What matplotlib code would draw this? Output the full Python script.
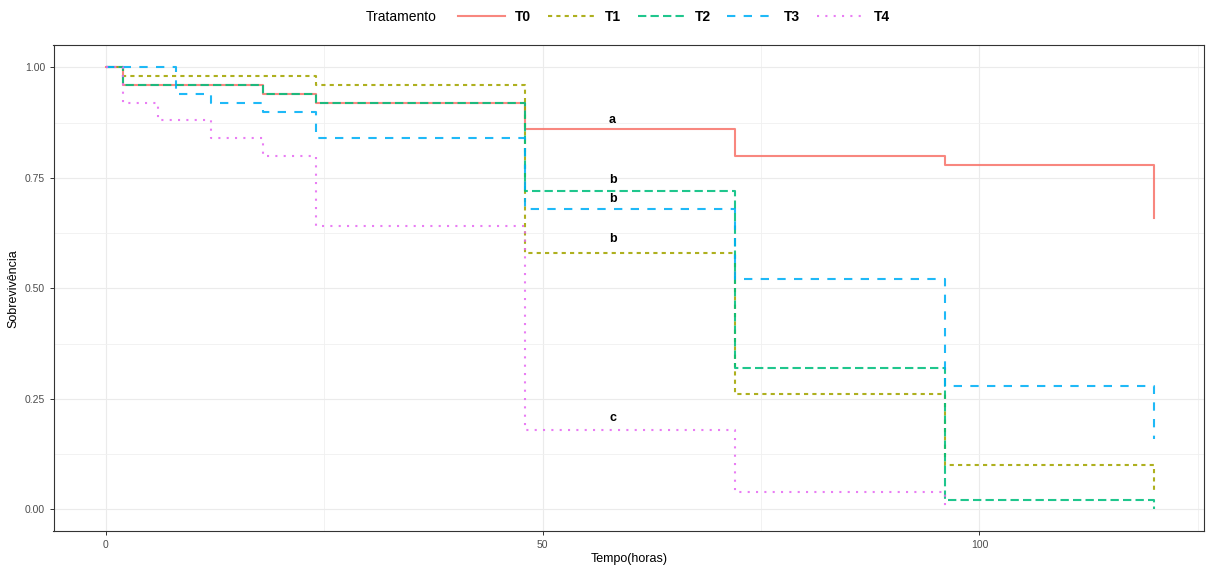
import numpy as np
import matplotlib
matplotlib.use("Agg")
import matplotlib.pyplot as plt
from matplotlib.lines import Line2D
from matplotlib.ticker import MultipleLocator

plt.rcParams['font.family'] = ['Liberation Sans', 'DejaVu Sans']

# survival curves (Kaplan-Meier steps)
tratamentos = ['T0', 'T1', 'T2', 'T3', 'T4']
tempo_T0 = [0, 2, 18, 24, 48, 72, 96, 120]
surv_T0 = [1.00, 0.96, 0.94, 0.92, 0.86, 0.80, 0.78, 0.66]
tempo_T1 = [0, 2, 24, 48, 72, 96, 120]
surv_T1 = [1.00, 0.98, 0.96, 0.58, 0.26, 0.10, 0.04]
tempo_T2 = [0, 2, 18, 24, 48, 72, 96, 120]
surv_T2 = [1.00, 0.96, 0.94, 0.92, 0.72, 0.32, 0.02, 0.00]
tempo_T3 = [0, 8, 12, 18, 24, 48, 72, 96, 120]
surv_T3 = [1.00, 0.94, 0.92, 0.90, 0.84, 0.68, 0.52, 0.28, 0.16]
tempo_T4 = [0, 2, 6, 12, 18, 24, 48, 72, 96]
surv_T4 = [1.00, 0.92, 0.88, 0.84, 0.80, 0.64, 0.18, 0.04, 0.00]

# letters of the statistical groups
letras = ['a', 'b', 'b', 'b', 'c']
letras_x = [58, 58, 58, 58, 58]
letras_y = [0.881, 0.744, 0.703, 0.611, 0.207]

tempos = [tempo_T0, tempo_T1, tempo_T2, tempo_T3, tempo_T4]
survs = [surv_T0, surv_T1, surv_T2, surv_T3, surv_T4]
cores = ['#F8766D', '#A3A500', '#00BF7D', '#00B0F6', '#E76BF3']
dashes = [None, (2, 2), (4, 2), (4, 4), (1, 3)]
lw = 1.5
alpha = 0.88

fig = plt.figure(figsize=(12.06, 5.65), dpi=100)
ax = fig.add_axes([53.5/1206, 1-531.4/565, (1204-53.5)/1206, (531.4-45.2)/565])

handles = []
for t, s, c, d, nome in zip(tempos, survs, cores, dashes, tratamentos):
    ln, = ax.step(t, s, where='post', color=c, lw=lw, alpha=alpha, label=nome)
    if d is not None:
        ln.set_dashes(d)
    ln.set_dash_capstyle('butt')
    h = Line2D([0], [0], color=c, lw=lw, alpha=alpha)
    if d is not None:
        h.set_dashes(d)
    handles.append(h)

for lx, ly, lt in zip(letras_x, letras_y, letras):
    ax.text(lx, ly, lt, ha='center', va='center', fontsize=9, fontweight='bold')

ax.set_xlim(-6, 125.7)
ax.set_ylim(-0.05, 1.05)
ax.xaxis.set_major_locator(MultipleLocator(50))
ax.xaxis.set_minor_locator(MultipleLocator(25))
ax.yaxis.set_major_locator(MultipleLocator(0.25))
ax.yaxis.set_minor_locator(MultipleLocator(0.125))
ax.yaxis.set_major_formatter(matplotlib.ticker.FormatStrFormatter('%.2f'))
ax.grid(which='major', color='#EBEBEB', lw=0.8)
ax.grid(which='minor', color='#F0F0F0', lw=0.6)
ax.set_axisbelow(True)
ax.tick_params(which='major', length=3, width=0.7, color='#333333', labelsize=7.5, labelcolor='#4D4D4D', pad=3)
ax.tick_params(which='minor', length=0)
for sp in ax.spines.values():
    sp.set_color('#333333')
    sp.set_linewidth(0.8)

ax.set_xlabel('Tempo(horas)', fontsize=9, labelpad=2)
ax.set_ylabel('Sobrevivência', fontsize=9, labelpad=4)

fig.text(366/1206, 1-17/565, 'Tratamento', fontsize=10, va='center', ha='left')
fig.legend(handles, tratamentos, loc='center', bbox_to_anchor=(674/1206, 1-17/565),
           ncol=5, frameon=False, handlelength=3.4, handletextpad=0.7,
           columnspacing=1.2, prop={'weight': 'bold', 'size': 10})

fig.savefig('out.png', dpi=100)
